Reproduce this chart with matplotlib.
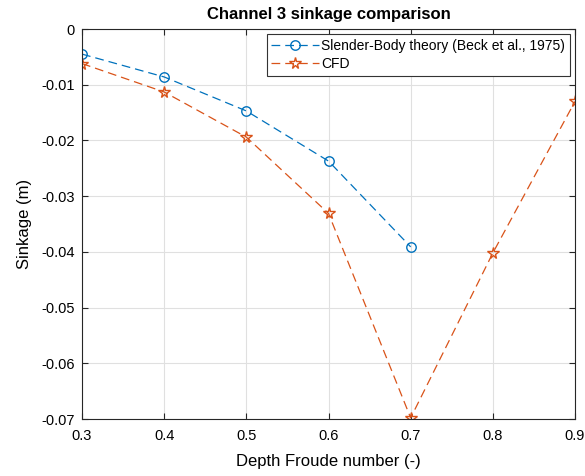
import matplotlib
matplotlib.use('Agg')
from matplotlib import pyplot as plt

plt.rcParams['font.family'] = ['Liberation Sans', 'DejaVu Sans']

# data
froude_sb = [0.3, 0.4, 0.5, 0.6, 0.7]
sinkage_sb = [-0.0045, -0.0086, -0.0147, -0.0237, -0.0391]
froude_cfd = [0.3, 0.4, 0.5, 0.6, 0.7, 0.8, 0.9]
sinkage_cfd = [-0.0062, -0.0113, -0.0194, -0.0331, -0.0698, -0.0402, -0.0130]

x_ticks = [0.3, 0.4, 0.5, 0.6, 0.7, 0.8, 0.9]
y_ticks = [0, -0.01, -0.02, -0.03, -0.04, -0.05, -0.06, -0.07]
y_labels = ['0', '-0.01', '-0.02', '-0.03', '-0.04', '-0.05', '-0.06', '-0.07']

blue = (0, 0.447, 0.741)
orange = (0.85, 0.325, 0.098)

fig = plt.figure(figsize=(5.85, 4.76), dpi=100)
ax = fig.add_axes([0.1402, 0.1197, 0.8427, 0.8193])

ax.plot(froude_sb, sinkage_sb, '--o', color=blue, lw=0.9, dashes=(7, 4),
        markersize=6.8, markerfacecolor='none', markeredgewidth=1.0,
        label='Slender-Body theory (Beck et al., 1975)')
ax.plot(froude_cfd, sinkage_cfd, '--*', color=orange, lw=0.9, dashes=(7, 4),
        markersize=8.5, markerfacecolor='none', markeredgewidth=1.0,
        label='CFD')

ax.set_xlim(0.3, 0.9)
ax.set_ylim(-0.07, 0)
ax.set_xticks(x_ticks)
ax.set_xticklabels([str(v) for v in x_ticks])
ax.set_yticks(y_ticks)
ax.set_yticklabels(y_labels)
ax.tick_params(direction='in', length=4, labelsize=10.5, colors='#262626',
               top=True, right=True, labeltop=False, labelright=False)
ax.tick_params(axis='x', pad=7)
ax.tick_params(axis='y', pad=5)
for t in ax.get_xticklabels() + ax.get_yticklabels():
    t.set_color('black')
ax.grid(True, color='#e0e0e0', lw=0.8)
ax.set_axisbelow(True)
for s in ax.spines.values():
    s.set_color('#262626')
    s.set_linewidth(0.8)

ax.set_xlabel('Depth Froude number (-)', fontsize=12, labelpad=8)
ax.set_ylabel('Sinkage (m)', fontsize=12, labelpad=7)
ax.set_title('Channel 3 sinkage comparison', fontsize=12, fontweight='bold', pad=7)

leg = ax.legend(loc='upper right', fontsize=10, fancybox=False, framealpha=1,
                edgecolor='#333333', borderaxespad=0.35, handlelength=3.4,
                labelspacing=0.3, borderpad=0.35, handletextpad=0.2)
leg.get_frame().set_linewidth(0.8)

fig.savefig('out.png', dpi=100)
